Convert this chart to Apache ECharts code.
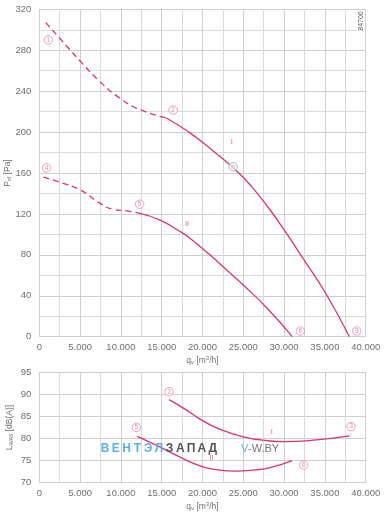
<!DOCTYPE html>
<html><head><meta charset="utf-8">
<script src="https://cdn.jsdelivr.net/npm/echarts@6/dist/echarts.min.js"></script>
<style>html,body{margin:0;padding:0;background:#fff}#c{width:391px;height:513px}</style>
</head><body><div id="c"></div>
<script>
// ---- data ----
const curveIDash   = [[800,307],[3700,281],[5000,269.5],[7400,249.5],[9900,233],[12300,222],[15500,214]];
const curveISolid  = [[15500,214],[17200,206],[18500,199],[20000,190],[22000,177],[24200,162],[26000,147],[28000,127],[30300,101],[32200,78],[35200,41],[38000,0]];
const curveIIDash  = [[500,156],[2500,151],[5000,143.5],[7400,130.5],[9000,124.5],[10700,123],[12100,121]];
const curveIISolid = [[12100,121],[14800,114],[17200,103],[18500,96],[20900,80],[23000,65],[25000,50.5],[27900,28],[31000,0]];
const noiseI  = [[15900,88.8],[18000,86.5],[19700,84.4],[22000,82.2],[25000,80.4],[28000,79.5],[30000,79.3],[34000,79.7],[38000,80.6]];
const noiseII = [[12000,80.5],[15000,77.9],[17000,76.0],[19700,73.8],[21500,73.0],[24000,72.6],[26500,72.9],[28300,73.4],[31000,75.0]];
const pointsTop = [[1100,290,'1'],[16400,221.5,'2'],[38900,5.6,'3'],[900,165,'4'],[12300,129.5,'5'],[32000,5.6,'6']];
const pointsBottom = [[15900,90.6,'2'],[11900,82.5,'5'],[38200,82.7,'3'],[32400,74,'6']];
const opPoint = [[23750,166,'n']];
const romanTop = [[23600,190,'I'],[18100,110,'II']];
const romanBottom = [[28500,81.5,'I'],[21100,75.5,'II']];
const xTicks = {min:0,max:40000,interval:5000};
const yTicksTop = {min:0,max:320,interval:40};
const yTicksBottom = {min:70,max:95,interval:5};
const watermarkA = ['В','Е','Н','Т','Э','Л'];
const watermarkB = ['З','А','П','А','Д'];

// ---- style ----
const MAG = '#d8337e', PINK = '#e06aa2', GRID = '#cfcfcf', MINOR = '#dadada', TXT = '#6f6f6f';
const fmt = v => v === 0 ? '0' : String(v).replace(/\B(?=(\d{3})+(?!\d))/g, '.');
const font = 'Liberation Sans, Arial, sans-serif';

function xAxis(gi){
  return {type:'value', gridIndex:gi, min:xTicks.min, max:xTicks.max, interval:xTicks.interval,
    name: '{a|q}{s|v}{a| [m}{u|3}{a|/h]}', nameLocation:'middle', nameGap:19, nameMoveOverlap:false,
    nameTextStyle:{rich:{a:{fontSize:8.5,color:TXT,fontFamily:font},s:{fontSize:6,color:TXT,verticalAlign:'bottom',padding:[4,0,0,0]},u:{fontSize:6,color:TXT,verticalAlign:'top',padding:[0,0,4,0]}}},
    axisLine:{show:false}, axisTick:{show:false},
    axisLabel:{formatter:fmt, color:TXT, fontSize:9.5, margin:6, fontFamily:font},
    splitLine:{show:true, lineStyle:{color:GRID,width:1}},
    minorTick:{show:false, splitNumber:2},
    minorSplitLine:{show:true, lineStyle:{color:MINOR,width:1}}};
}
function yAxis(gi, t, minorN, nm, gap){
  return {type:'value', gridIndex:gi, min:t.min, max:t.max, interval:t.interval,
    name:nm, nameLocation:'middle', nameGap:gap, nameRotate:90, nameMoveOverlap:false,
    nameTextStyle:{rich:{a:{fontSize:8.5,color:TXT,fontFamily:font},s:{fontSize:5.5,color:TXT,padding:[4,0,0,0]}}},
    axisLine:{show:false}, axisTick:{show:false},
    axisLabel:{color:TXT, fontSize:9.5, margin:8, fontFamily:font},
    splitLine:{show:true, lineStyle:{color:GRID,width:1}},
    minorTick:{show:false, splitNumber:minorN},
    minorSplitLine:{show:minorN>1, lineStyle:{color:MINOR,width:1}}};
}
function line(data, gi, dashed){
  return {type:'line', xAxisIndex:gi, yAxisIndex:gi, data:data, smooth:0.5, showSymbol:false, silent:true,
    lineStyle:{color:MAG, width:1.3, type: dashed ? [6,4] : 'solid'}, z:3};
}
function circles(data, gi, col){
  return {type:'scatter', xAxisIndex:gi, yAxisIndex:gi, data:data, symbol:'circle', symbolSize:8.5, silent:true,
    itemStyle:{color:'#fff', borderColor:col, borderWidth:0.8}, z:5,
    label:{show:true, position:'inside', formatter:p=>p.value[2], fontSize:6.5, color:col, fontFamily:font}};
}
function roman(data, gi){
  return {type:'scatter', xAxisIndex:gi, yAxisIndex:gi, data:data, symbolSize:0, silent:true, z:5,
    label:{show:true, position:'inside', formatter:p=>p.value[2], fontSize:7.5, color:MAG, fontFamily:font}};
}

const graphics = [];
watermarkA.forEach((ch,i)=>graphics.push({type:'text', x:105+i*10.77, y:449, z:10,
  style:{text:ch, fill:'#5cb0e4', font:'bold 12px '+font, align:'center', verticalAlign:'middle'}}));
watermarkB.forEach((ch,i)=>graphics.push({type:'text', x:105+(i+6)*10.77, y:449, z:10,
  style:{text:ch, fill:'#555', font:'bold 12px '+font, align:'center', verticalAlign:'middle'}}));
graphics.push({type:'text', x:241, y:449, z:10, style:{text:'V', fill:'#5cb0e4', font:'11px '+font, verticalAlign:'middle'}});
graphics.push({type:'text', x:248, y:449, z:10, style:{text:'-W.BY', fill:'#777', font:'11px '+font, verticalAlign:'middle'}});
graphics.push({type:'text', x:361, y:21, rotation:Math.PI/2, z:10,
  style:{text:'84700', fill:'#555', font:'7px '+font, align:'center', verticalAlign:'middle', backgroundColor:'#fff', padding:[0,1]}});

const chart = echarts.init(document.getElementById('c'), null, {renderer:'canvas'});
chart.setOption({
  animation:false,
  backgroundColor:'#fff',
  grid:[{left:39.3, right:25.3, top:9.3, height:327.4, containLabel:false, outerBoundsMode:'none'},
        {left:39.3, right:25.3, top:372.3, height:110.4, containLabel:false, outerBoundsMode:'none'}],
  xAxis:[xAxis(0), xAxis(1)],
  yAxis:[yAxis(0, yTicksTop, 2, '{a|P}{s|sf}{a| [Pa]}', 27), yAxis(1, yTicksBottom, 1, '{a|L}{s|WA5}{a| [dB(A)]}', 25)],
  series:[
    line(curveIDash,0,true), line(curveISolid,0,false), line(curveIIDash,0,true), line(curveIISolid,0,false),
    line(noiseI,1,false), line(noiseII,1,false),
    circles(pointsTop,0,PINK), circles(opPoint,0,'#8a8a8a'), circles(pointsBottom,1,PINK),
    roman(romanTop,0), roman(romanBottom,1)
  ],
  graphic: graphics
});
</script></body></html>
